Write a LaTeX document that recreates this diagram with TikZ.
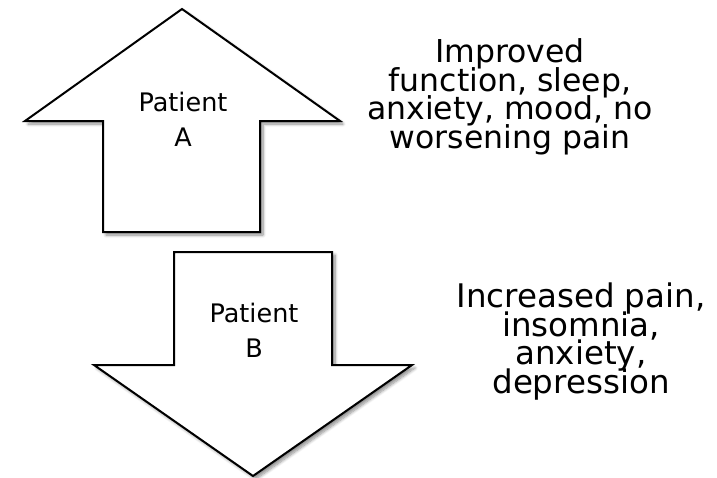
\documentclass[tikz,border=0pt]{standalone}
\usepackage{fontspec}
\setmainfont{DejaVu Sans}
\usetikzlibrary{shadows.blur}
\begin{document}
\begin{tikzpicture}[x=1pt,y=-1pt,
  blockarrow/.style={draw=black, line width=2pt, fill=white, line join=miter,
    blur shadow={shadow xshift=3pt, shadow yshift=-3pt, shadow blur steps=8,
      shadow blur radius=3pt, shadow opacity=45}},
  label/.style={align=center, inner sep=0pt, text=black, anchor=base},
  patient/.style={label, font={\fontsize{25.5}{35}\selectfont\lineskiplimit=-100pt}},
  outcomeup/.style={label, font={\fontsize{31.5}{28.5}\selectfont\lineskiplimit=-100pt}},
  outcomedown/.style={label, font={\fontsize{32.5}{28.5}\selectfont\lineskiplimit=-100pt}}]
  \useasboundingbox (0,0) rectangle (717,477);

  % upward block arrow (Patient A)
  \draw[blockarrow] (182,9) -- (340,121) -- (260,121) -- (260,232)
    -- (103,232) -- (103,121) -- (25,121) -- cycle;
  % downward block arrow (Patient B)
  \draw[blockarrow] (174,252) -- (332,252) -- (332,365) -- (412,365)
    -- (253,476) -- (94,365) -- (174,365) -- cycle;

  % anchor=base sits on the last line of each label
  \node[patient] (pa) at (183,146) {Patient\\A};
  \node[patient] (pb) at (254,357) {Patient\\B};

  \node[outcomeup] (oa) at (510,148)
    {Improved\\function, sleep,\\anxiety, mood, no\\worsening pain};
  \node[outcomedown] (ob) at (581,393)
    {Increased pain,\\insomnia,\\anxiety,\\depression};
\end{tikzpicture}
\end{document}
